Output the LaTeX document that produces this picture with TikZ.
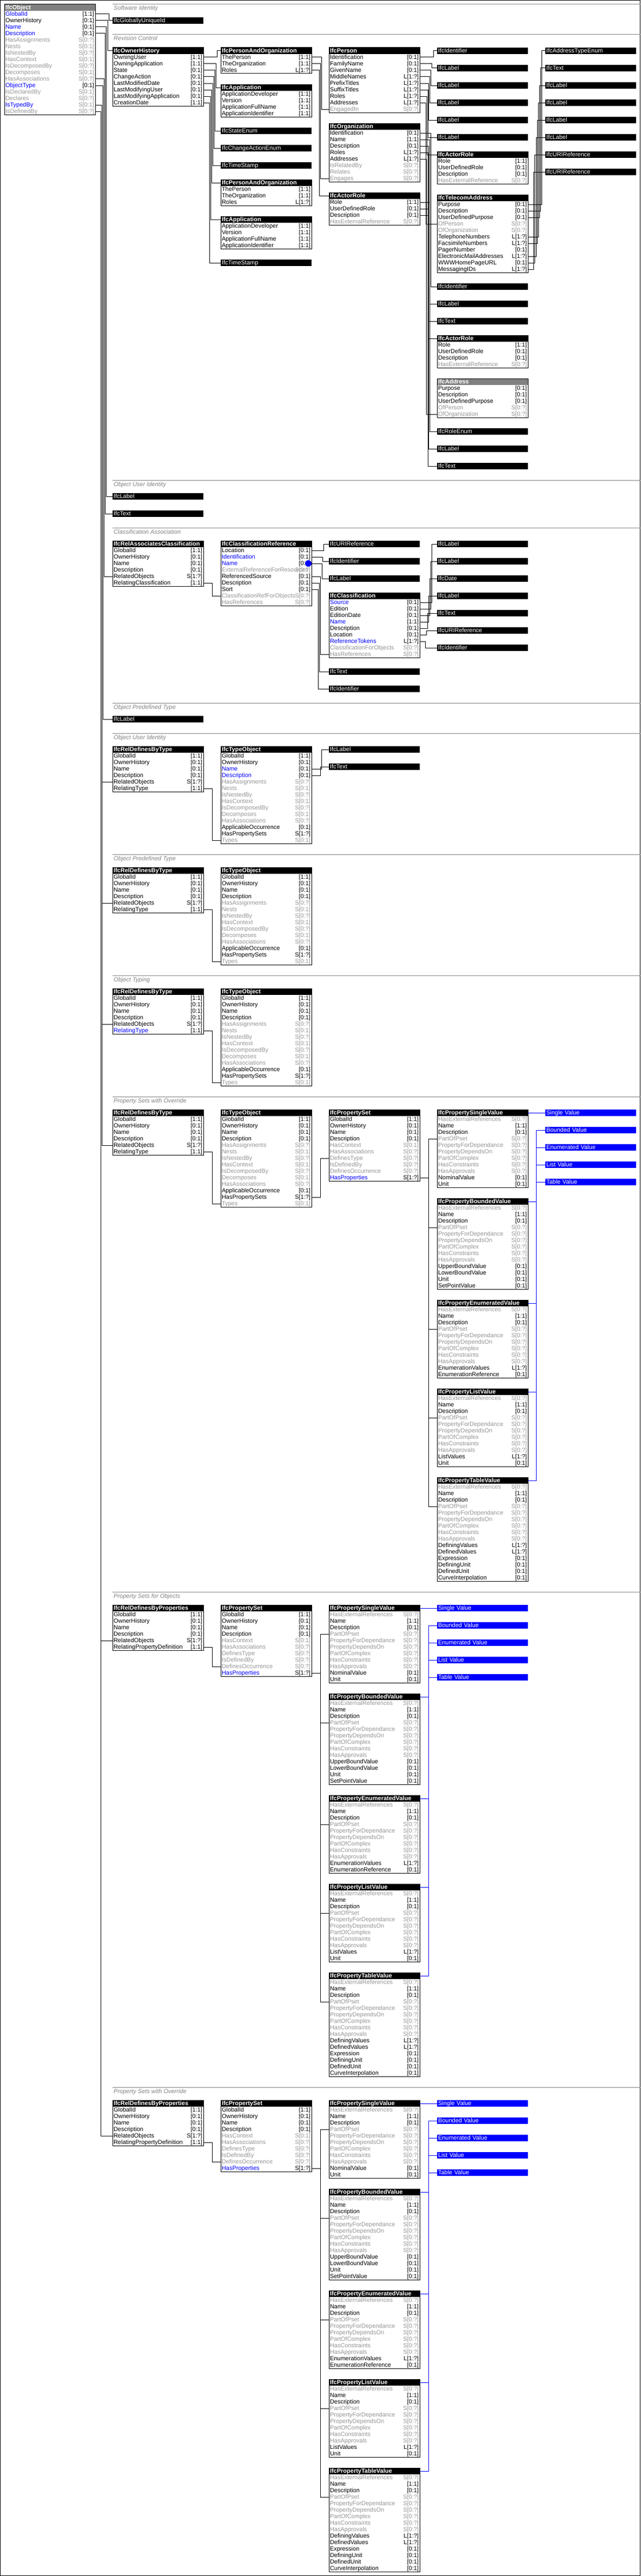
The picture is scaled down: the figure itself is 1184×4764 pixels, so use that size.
\documentclass[tikz,border=0pt]{standalone}
\usepackage{fontspec}
\setmainfont{Liberation Sans}
\usetikzlibrary{calc}
\definecolor{attrblue}{RGB}{0,0,255}
\definecolor{attrgrey}{RGB}{150,150,150}
\definecolor{hdrgrey}{RGB}{128,128,128}
\definecolor{secgrey}{RGB}{130,130,130}
\definecolor{linkblue}{RGB}{0,0,255}
\colorlet{nck}{black}\colorlet{mck}{black}
\colorlet{ncb}{attrblue}\colorlet{mcb}{black}
\colorlet{ncg}{attrgrey}\colorlet{mcg}{attrgrey}
\colorlet{ncB}{attrblue}\colorlet{mcB}{attrgrey}
\newcommand\rowfont{\fontsize{11}{12}\selectfont}
\newcommand\hdrfont{\bfseries\fontsize{11}{12}\selectfont}
\tikzset{
  hdrnode/.style={anchor=north west, inner xsep=2pt, inner ysep=0pt, outer sep=0pt,
    text width=164pt, minimum height=12pt, text height=9pt, text depth=2.5pt,
    font=\hdrfont, text=white, align=left},
  rownode/.style={anchor=north west, inner xsep=2pt, inner ysep=0pt, outer sep=0pt,
    text width=164pt, minimum height=12pt, text height=9pt, text depth=2.5pt,
    font=\rowfont},
  tynode/.style={hdrnode, font=\rowfont, fill=black},
  bluenode/.style={tynode, fill=linkblue},
  boxline/.style={draw=black, line width=1pt},
  conn/.style={draw=black, line width=1pt},
  bconn/.style={draw=linkblue, line width=1pt},
  secline/.style={draw=secgrey, line width=1pt},
  seclabel/.style={anchor=base west, inner sep=0pt, font=\itshape\rowfont, text=secgrey},
}
\newcounter{rowk}
\newcommand\bn{}\newcommand\bx{}\newcommand\by{}\newcommand\rk{0}
\newcommand\clsbox[5]{\def\bn{#1}\def\bx{#2}\def\by{#3}\setcounter{rowk}{0}%
  \node[hdrnode,fill=#5] (#1) at (#2,#3) {#4};}
\newcommand\arow[3]{\stepcounter{rowk}\edef\rk{\arabic{rowk}}%
  \node[rownode] (\bn-\rk) at (\bx,\by+12*\rk) {\rlap{\textcolor{nc#1}{#2}}\hfill\textcolor{mc#1}{#3}};}
\newcommand\clsend{\draw[boxline] (\bx,\by) rectangle (\bx+168,\by+12+12*\rk);}
\newcommand\tybox[4]{\node[tynode] (#1) at (#2,#3) {#4};}
\newcommand\blbox[4]{\node[bluenode] (#1) at (#2,#3) {#4};}
\newcommand\lnk[3]{\draw[conn] (#1.east) -| ([xshift=-#2pt]#3.west) -- (#3.west);}
\newcommand\blnk[3]{\draw[bconn] (#1.east) -| ([xshift=-#2pt]#3.west) -- (#3.west);}
\newcommand\sect[3]{\draw[secline] (208,#2) -- (1184,#2); \node[seclabel] (#1) at (210,#2+11) {#3};}
\newcommand\paobox[3]{\clsbox{#1}{#2}{#3}{IfcPersonAndOrganization}{black}%
  \arow{k}{ThePerson}{[1:1]}\arow{k}{TheOrganization}{[1:1]}\arow{k}{Roles}{L[1:?]}\clsend}
\newcommand\appbox[3]{\clsbox{#1}{#2}{#3}{IfcApplication}{black}%
  \arow{k}{ApplicationDeveloper}{[1:1]}\arow{k}{Version}{[1:1]}\arow{k}{ApplicationFullName}{[1:1]}\arow{k}{ApplicationIdentifier}{[1:1]}\clsend}
\newcommand\arbox[3]{\clsbox{#1}{#2}{#3}{IfcActorRole}{black}%
  \arow{k}{Role}{[1:1]}\arow{k}{UserDefinedRole}{[0:1]}\arow{k}{Description}{[0:1]}\arow{g}{HasExternalReference}{S[0:?]}\clsend}
\newcommand\reltype[4]{\clsbox{#1}{#2}{#3}{IfcRelDefinesByType}{black}%
  \arow{k}{GlobalId}{[1:1]}\arow{k}{OwnerHistory}{[0:1]}\arow{k}{Name}{[0:1]}\arow{k}{Description}{[0:1]}%
  \arow{k}{RelatedObjects}{S[1:?]}\arow{#4}{RelatingType}{[1:1]}\clsend}
\newcommand\relprops[3]{\clsbox{#1}{#2}{#3}{IfcRelDefinesByProperties}{black}%
  \arow{k}{GlobalId}{[1:1]}\arow{k}{OwnerHistory}{[0:1]}\arow{k}{Name}{[0:1]}\arow{k}{Description}{[0:1]}%
  \arow{k}{RelatedObjects}{S[1:?]}\arow{k}{RelatingPropertyDefinition}{[1:1]}\clsend}
\newcommand\typeobj[5]{\clsbox{#1}{#2}{#3}{IfcTypeObject}{black}%
  \arow{k}{GlobalId}{[1:1]}\arow{k}{OwnerHistory}{[0:1]}\arow{#4}{Name}{[0:1]}\arow{#5}{Description}{[0:1]}%
  \arow{g}{HasAssignments}{S[0:?]}\arow{g}{Nests}{S[0:1]}\arow{g}{IsNestedBy}{S[0:?]}\arow{g}{HasContext}{S[0:1]}%
  \arow{g}{IsDecomposedBy}{S[0:?]}\arow{g}{Decomposes}{S[0:1]}\arow{g}{HasAssociations}{S[0:?]}%
  \arow{k}{ApplicableOccurrence}{[0:1]}\arow{k}{HasPropertySets}{S[1:?]}\arow{g}{Types}{S[0:1]}\clsend}
\newcommand\psetbox[3]{\clsbox{#1}{#2}{#3}{IfcPropertySet}{black}%
  \arow{k}{GlobalId}{[1:1]}\arow{k}{OwnerHistory}{[0:1]}\arow{k}{Name}{[0:1]}\arow{k}{Description}{[0:1]}%
  \arow{g}{HasContext}{S[0:1]}\arow{g}{HasAssociations}{S[0:?]}\arow{g}{DefinesType}{S[0:?]}\arow{g}{IsDefinedBy}{S[0:?]}%
  \arow{g}{DefinesOccurrence}{S[0:?]}\arow{b}{HasProperties}{S[1:?]}\clsend}
\newcommand\propcommon{\arow{g}{HasExternalReferences}{S[0:?]}\arow{k}{Name}{[1:1]}\arow{k}{Description}{[0:1]}%
  \arow{g}{PartOfPset}{S[0:?]}\arow{g}{PropertyForDependance}{S[0:?]}\arow{g}{PropertyDependsOn}{S[0:?]}%
  \arow{g}{PartOfComplex}{S[0:?]}\arow{g}{HasConstraints}{S[0:?]}\arow{g}{HasApprovals}{S[0:?]}}
% #1 prefix, #2 x, #3 y0, #4 blue x, #5 blue shift, #6 pset row node, #7 pset shift
\newcommand\propgroup[7]{%
  \clsbox{#1sv}{#2}{#3}{IfcPropertySingleValue}{black}\propcommon\arow{k}{NominalValue}{[0:1]}\arow{k}{Unit}{[0:1]}\clsend
  \clsbox{#1bv}{#2}{#3+164}{IfcPropertyBoundedValue}{black}\propcommon\arow{k}{UpperBoundValue}{[0:1]}\arow{k}{LowerBoundValue}{[0:1]}\arow{k}{Unit}{[0:1]}\arow{k}{SetPointValue}{[0:1]}\clsend
  \clsbox{#1ev}{#2}{#3+352}{IfcPropertyEnumeratedValue}{black}\propcommon\arow{k}{EnumerationValues}{L[1:?]}\arow{k}{EnumerationReference}{[0:1]}\clsend
  \clsbox{#1lv}{#2}{#3+516}{IfcPropertyListValue}{black}\propcommon\arow{k}{ListValues}{L[1:?]}\arow{k}{Unit}{[0:1]}\clsend
  \clsbox{#1tv}{#2}{#3+680}{IfcPropertyTableValue}{black}\propcommon\arow{k}{DefiningValues}{L[1:?]}\arow{k}{DefinedValues}{L[1:?]}\arow{k}{Expression}{[0:1]}\arow{k}{DefiningUnit}{[0:1]}\arow{k}{DefinedUnit}{[0:1]}\arow{k}{CurveInterpolation}{[0:1]}\clsend
  \blbox{#1bsv}{#4}{#3}{Single Value}
  \blbox{#1bbv}{#4}{#3+32}{Bounded Value}
  \blbox{#1bev}{#4}{#3+64}{Enumerated Value}
  \blbox{#1blv}{#4}{#3+96}{List Value}
  \blbox{#1btv}{#4}{#3+128}{Table Value}
  \blnk{#1sv}{#5}{#1bsv}\blnk{#1bv}{#5}{#1bbv}\blnk{#1ev}{#5}{#1bev}\blnk{#1lv}{#5}{#1blv}\blnk{#1tv}{#5}{#1btv}
  \lnk{#6}{#7}{#1sv-4}\lnk{#6}{#7}{#1bv-4}\lnk{#6}{#7}{#1ev-4}\lnk{#6}{#7}{#1lv-4}\lnk{#6}{#7}{#1tv-4}
}
\begin{document}
\begin{tikzpicture}[x=1pt,y=-1pt]
\useasboundingbox (0,0) rectangle (1184,4764);
\fill[white] (0,0) rectangle (1184,4764);
\draw[line width=1pt] (0.5,0.5) rectangle (1183.5,4763.5);

% ---------------- IfcObject
\clsbox{obj}{8}{8}{IfcObject}{hdrgrey}
\arow{b}{GlobalId}{[1:1]}
\arow{k}{OwnerHistory}{[0:1]}
\arow{b}{Name}{[0:1]}
\arow{b}{Description}{[0:1]}
\arow{g}{HasAssignments}{S[0:?]}
\arow{g}{Nests}{S[0:1]}
\arow{g}{IsNestedBy}{S[0:?]}
\arow{g}{HasContext}{S[0:1]}
\arow{g}{IsDecomposedBy}{S[0:?]}
\arow{g}{Decomposes}{S[0:1]}
\arow{g}{HasAssociations}{S[0:?]}
\arow{b}{ObjectType}{[0:1]}
\arow{g}{IsDeclaredBy}{S[0:1]}
\arow{g}{Declares}{S[0:?]}
\arow{B}{IsTypedBy}{S[0:1]}
\arow{g}{IsDefinedBy}{S[0:?]}
\clsend

% ---------------- Software Identity
\sect{s1}{8}{Software Identity}
\tybox{guid}{208}{32}{IfcGloballyUniqueId}

% ---------------- Revision Control
\sect{s2}{64}{Revision Control}
\clsbox{oh}{208}{88}{IfcOwnerHistory}{black}
\arow{k}{OwningUser}{[1:1]}
\arow{k}{OwningApplication}{[1:1]}
\arow{k}{State}{[0:1]}
\arow{k}{ChangeAction}{[0:1]}
\arow{k}{LastModifiedDate}{[0:1]}
\arow{k}{LastModifyingUser}{[0:1]}
\arow{k}{LastModifyingApplication}{[0:1]}
\arow{k}{CreationDate}{[1:1]}
\clsend
\paobox{pao1}{408}{88}
\appbox{app1}{408}{156}
\tybox{stenum}{408}{236}{IfcStateEnum}
\tybox{caenum}{408}{268}{IfcChangeActionEnum}
\tybox{ts1}{408}{300}{IfcTimeStamp}
\paobox{pao2}{408}{332}
\appbox{app2}{408}{400}
\tybox{ts2}{408}{480}{IfcTimeStamp}

\clsbox{per}{608}{88}{IfcPerson}{black}
\arow{k}{Identification}{[0:1]}
\arow{k}{FamilyName}{[0:1]}
\arow{k}{GivenName}{[0:1]}
\arow{k}{MiddleNames}{L[1:?]}
\arow{k}{PrefixTitles}{L[1:?]}
\arow{k}{SuffixTitles}{L[1:?]}
\arow{k}{Roles}{L[1:?]}
\arow{k}{Addresses}{L[1:?]}
\arow{g}{EngagedIn}{S[0:?]}
\clsend
\clsbox{org}{608}{228}{IfcOrganization}{black}
\arow{k}{Identification}{[0:1]}
\arow{k}{Name}{[1:1]}
\arow{k}{Description}{[0:1]}
\arow{k}{Roles}{L[1:?]}
\arow{k}{Addresses}{L[1:?]}
\arow{g}{IsRelatedBy}{S[0:?]}
\arow{g}{Relates}{S[0:?]}
\arow{g}{Engages}{S[0:?]}
\clsend
\arbox{ar1}{608}{356}

\tybox{id1}{808}{88}{IfcIdentifier}
\tybox{lb1}{808}{120}{IfcLabel}
\tybox{lb2}{808}{152}{IfcLabel}
\tybox{lb3}{808}{184}{IfcLabel}
\tybox{lb4}{808}{216}{IfcLabel}
\tybox{lb5}{808}{248}{IfcLabel}
\arbox{ar2}{808}{280}
\clsbox{tel}{808}{360}{IfcTelecomAddress}{black}
\arow{k}{Purpose}{[0:1]}
\arow{k}{Description}{[0:1]}
\arow{k}{UserDefinedPurpose}{[0:1]}
\arow{g}{OfPerson}{S[0:?]}
\arow{g}{OfOrganization}{S[0:?]}
\arow{k}{TelephoneNumbers}{L[1:?]}
\arow{k}{FacsimileNumbers}{L[1:?]}
\arow{k}{PagerNumber}{[0:1]}
\arow{k}{ElectronicMailAddresses}{L[1:?]}
\arow{k}{WWWHomePageURL}{[0:1]}
\arow{k}{MessagingIDs}{L[1:?]}
\clsend
\tybox{id2}{808}{524}{IfcIdentifier}
\tybox{lb6}{808}{556}{IfcLabel}
\tybox{tx1}{808}{588}{IfcText}
\arbox{ar3}{808}{620}
\clsbox{addr}{808}{700}{IfcAddress}{hdrgrey}
\arow{k}{Purpose}{[0:1]}
\arow{k}{Description}{[0:1]}
\arow{k}{UserDefinedPurpose}{[0:1]}
\arow{g}{OfPerson}{S[0:?]}
\arow{g}{OfOrganization}{S[0:?]}
\clsend
\tybox{roleenum}{808}{792}{IfcRoleEnum}
\tybox{lb7}{808}{824}{IfcLabel}
\tybox{tx2}{808}{856}{IfcText}

\tybox{ate}{1008}{88}{IfcAddressTypeEnum}
\tybox{tx3}{1008}{120}{IfcText}
\tybox{lb8}{1008}{152}{IfcLabel}
\tybox{lb9}{1008}{184}{IfcLabel}
\tybox{lb10}{1008}{216}{IfcLabel}
\tybox{lb11}{1008}{248}{IfcLabel}
\tybox{uri1}{1008}{280}{IfcURIReference}
\tybox{uri2}{1008}{312}{IfcURIReference}

\lnk{oh-1}{7}{pao1}\lnk{oh-2}{9}{app1}\lnk{oh-3}{11}{stenum}\lnk{oh-4}{13}{caenum}
\lnk{oh-5}{15}{ts1}\lnk{oh-6}{17}{pao2}\lnk{oh-7}{19}{app2}\lnk{oh-8}{21}{ts2}
\lnk{pao1-1}{14}{per-9}\lnk{pao1-2}{16}{org-8}\lnk{pao1-3}{18}{ar1}
\lnk{per-1}{7}{id1}\lnk{per-2}{9.5}{lb1}\lnk{per-3}{11.4}{lb2}\lnk{per-4}{13.3}{lb3}
\lnk{per-5}{15.2}{lb4}\lnk{per-6}{17}{lb5}\lnk{per-7}{19}{ar2}\lnk{per-8}{21}{tel-4}
\lnk{org-1}{11.4}{id2}\lnk{org-2}{13.3}{lb6}\lnk{org-3}{15.2}{tx1}\lnk{org-4}{17}{ar3}\lnk{org-5}{19.4}{addr-5}
\lnk{ar1-1}{13.3}{roleenum}\lnk{ar1-2}{15.2}{lb7}\lnk{ar1-3}{17}{tx2}
\lnk{tel-1}{7}{ate}\lnk{tel-2}{9}{tx3}\lnk{tel-3}{11}{lb8}\lnk{tel-6}{13}{lb9}
\lnk{tel-7}{15}{lb10}\lnk{tel-9}{17}{lb11}\lnk{tel-10}{20}{uri1}\lnk{tel-11}{22}{uri2}

% ---------------- Object User Identity
\sect{s3}{888}{Object User Identity}
\tybox{oulb}{208}{912}{IfcLabel}
\tybox{outx}{208}{944}{IfcText}

% ---------------- Classification Association
\sect{s4}{976}{Classification Association}
\clsbox{rac}{208}{1000}{IfcRelAssociatesClassification}{black}
\arow{k}{GlobalId}{[1:1]}
\arow{k}{OwnerHistory}{[0:1]}
\arow{k}{Name}{[0:1]}
\arow{k}{Description}{[0:1]}
\arow{k}{RelatedObjects}{S[1:?]}
\arow{k}{RelatingClassification}{[1:1]}
\clsend
\clsbox{cref}{408}{1000}{IfcClassificationReference}{black}
\arow{k}{Location}{[0:1]}
\arow{b}{Identification}{[0:1]}
\arow{b}{Name}{[0:1]}
\arow{g}{ExternalReferenceForResources}{S[0:?]}
\arow{k}{ReferencedSource}{[0:1]}
\arow{k}{Description}{[0:1]}
\arow{k}{Sort}{[0:1]}
\arow{g}{ClassificationRefForObjects}{S[0:?]}
\arow{g}{HasReferences}{S[0:?]}
\clsend
\node[circle, fill=attrblue, minimum size=12pt, inner sep=0pt] (dot) at (570,1042) {};
\tybox{curi}{608}{1000}{IfcURIReference}
\tybox{cid}{608}{1032}{IfcIdentifier}
\tybox{clb}{608}{1064}{IfcLabel}
\clsbox{cls}{608}{1096}{IfcClassification}{black}
\arow{b}{Source}{[0:1]}
\arow{k}{Edition}{[0:1]}
\arow{k}{EditionDate}{[0:1]}
\arow{b}{Name}{[1:1]}
\arow{k}{Description}{[0:1]}
\arow{k}{Location}{[0:1]}
\arow{b}{ReferenceTokens}{L[1:?]}
\arow{g}{ClassificationForObjects}{S[0:?]}
\arow{g}{HasReferences}{S[0:?]}
\clsend
\tybox{ctx}{608}{1236}{IfcText}
\tybox{cid2}{608}{1268}{IfcIdentifier}
\tybox{c4lb1}{808}{1000}{IfcLabel}
\tybox{c4lb2}{808}{1032}{IfcLabel}
\tybox{c4date}{808}{1064}{IfcDate}
\tybox{c4lb3}{808}{1096}{IfcLabel}
\tybox{c4tx}{808}{1128}{IfcText}
\tybox{c4uri}{808}{1160}{IfcURIReference}
\tybox{c4id}{808}{1192}{IfcIdentifier}
\lnk{rac-6}{15.4}{cref-8}
\lnk{cref-1}{10}{curi}\lnk{cref-2}{11.5}{cid}\lnk{cref-3}{13}{clb}
\lnk{cref-5}{15.5}{cls-9}\lnk{cref-6}{17.5}{ctx}\lnk{cref-7}{19.5}{cid2}
\lnk{cls-1}{9.5}{c4lb1}\lnk{cls-2}{11.4}{c4lb2}\lnk{cls-3}{13.3}{c4date}\lnk{cls-4}{16}{c4lb3}
\lnk{cls-5}{18}{c4tx}\lnk{cls-6}{20}{c4uri}\lnk{cls-7}{22}{c4id}

% ---------------- Object Predefined Type
\sect{s5}{1300}{Object Predefined Type}
\tybox{optlb}{208}{1324}{IfcLabel}

% ---------------- Object User Identity
\sect{s6}{1356}{Object User Identity}
\reltype{rdt1}{208}{1380}{k}
\typeobj{to1}{408}{1380}{b}{b}
\tybox{ou2lb}{608}{1380}{IfcLabel}
\tybox{ou2tx}{608}{1412}{IfcText}
\lnk{rdt1-6}{15.4}{to1-14}
\lnk{to1-3}{14}{ou2lb}\lnk{to1-4}{16}{ou2tx}

% ---------------- Object Predefined Type
\sect{s7}{1580}{Object Predefined Type}
\reltype{rdt2}{208}{1604}{k}
\typeobj{to2}{408}{1604}{k}{k}
\lnk{rdt2-6}{15.4}{to2-14}

% ---------------- Object Typing
\sect{s8}{1804}{Object Typing}
\reltype{rdt3}{208}{1828}{b}
\typeobj{to3}{408}{1828}{k}{k}
\lnk{rdt3-6}{15.4}{to3-14}

% ---------------- Property Sets with Override
\sect{s9}{2028}{Property Sets with Override}
\reltype{rdt4}{208}{2052}{k}
\typeobj{to4}{408}{2052}{k}{k}
\psetbox{ps1}{608}{2052}
\lnk{rdt4-6}{15.4}{to4-14}
\lnk{to4-13}{15.4}{ps1-7}
\propgroup{pa}{808}{2052}{1008}{17}{ps1-10}{16}

% ---------------- Property Sets for Objects
\sect{s10}{2944}{Property Sets for Objects}
\relprops{rdp1}{208}{2968}
\psetbox{ps2}{408}{2968}
\lnk{rdp1-6}{15.4}{ps2-9}
\propgroup{pb}{608}{2968}{808}{16}{ps2-10}{15.4}

% ---------------- Property Sets with Override
\sect{s11}{3860}{Property Sets with Override}
\relprops{rdp2}{208}{3884}
\psetbox{ps3}{408}{3884}
\lnk{rdp2-6}{15.4}{ps3-9}
\propgroup{pc}{608}{3884}{808}{16}{ps3-10}{15.4}

% ---------------- trunk lines from IfcObject
\lnk{obj-1}{7}{guid}
\lnk{obj-2}{9}{oh}
\lnk{obj-3}{11.4}{oulb}
\lnk{obj-4}{13.4}{outx}
\lnk{obj-11}{15.3}{rac-5}
\lnk{obj-12}{17.6}{optlb}
\lnk{obj-15}{19.5}{rdt1-5}\lnk{obj-15}{19.5}{rdt2-5}\lnk{obj-15}{19.5}{rdt3-5}\lnk{obj-15}{19.5}{rdt4-5}
\lnk{obj-16}{21.4}{rdp1-5}\lnk{obj-16}{21.4}{rdp2-5}
\end{tikzpicture}
\end{document}
